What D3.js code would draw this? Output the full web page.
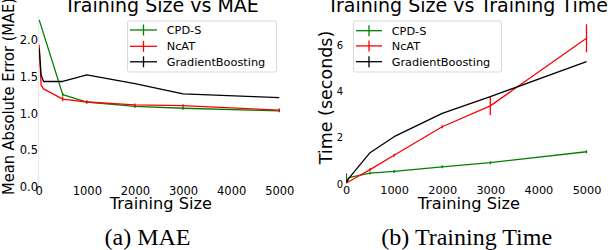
<!DOCTYPE html>
<html><head><meta charset="utf-8">
<script src="https://cdn.jsdelivr.net/npm/d3@7"></script>
<style>
body{margin:0;background:#fff;}
svg{display:block;}
text{font-family:"DejaVu Sans",sans-serif;fill:#000;}
.cap{font-family:"Liberation Serif","Times New Roman",serif;}
</style></head>
<body>
<svg id="c" width="612" height="250"></svg>
<script>
// ---- data ----
const sizes = [10, 50, 100, 500, 1000, 2000, 3000, 5000];
const seriesNames = ["CPD-S", "NcAT", "GradientBoosting"];
const seriesColors = ["#008000", "#ff0000", "#000000"];
// MAE panel
const maeCPD = [2.27, null, null, 1.25, 1.15, 1.09, 1.065, 1.03];
const maeCPDErr = [0, 0, 0, 0.005, 0.005, 0.005, 0.005, 0.005];
const maeNcAT = [1.93, 1.38, 1.33, 1.19, 1.15, 1.11, 1.10, 1.04];
const maeNcATErr = [0, 0, 0, 0.03, 0.01, 0.01, 0.01, 0.005];
const maeGB = [1.88, 1.52, 1.43, 1.43, 1.52, 1.40, 1.26, 1.21];
const maeGBErr = [0, 0, 0, 0, 0, 0, 0, 0];
// Time panel
const timeCPD = [0.05, 0.22, 0.28, 0.45, 0.52, 0.72, 0.9, 1.37];
const timeCPDErr = [0.38, 0, 0, 0.02, 0.02, 0.03, 0.02, 0.06];
const timeNcAT = [0.02, 0.08, 0.13, 0.6, 1.22, 2.45, 3.35, 6.27];
const timeNcATErr = [0, 0, 0, 0.03, 0.05, 0.06, 0.4, 0.6];
const timeGB = [0.05, 0.2, 0.33, 1.33, 2.02, 3.03, 3.75, 5.26];
const timeGBErr = [0, 0, 0, 0, 0, 0, 0, 0];
const xTicks = [0, 1000, 2000, 3000, 4000, 5000];
const maeYTicks = [0, 0.5, 1.0, 1.5, 2.0];
const timeYTicks = [0, 2, 4, 6];

const svg = d3.select("#c");

function panel(cfg) {
  const g = svg.append("g");
  const x = d3.scaleLinear().domain([0, 5000]).range(cfg.xr);
  const y = d3.scaleLinear().domain(cfg.yd).range(cfg.yr);
  const clipId = "clip" + cfg.id;
  svg.append("clipPath").attr("id", clipId).append("rect")
    .attr("x", cfg.xr[0]).attr("y", 14)
    .attr("width", cfg.xr[1] - cfg.xr[0] + 8).attr("height", cfg.yr[0] - 14);

  if (cfg.spine) {
    g.append("line").attr("x1", cfg.xr[0]).attr("x2", cfg.xr[0])
      .attr("y1", 16).attr("y2", cfg.yr[0]).attr("stroke", "#e6e6e6").attr("stroke-width", 1);
  }

  // axes (ticks without lines)
  const xAxis = d3.axisBottom(x).tickValues(xTicks).tickSize(0).tickPadding(0).tickFormat(d3.format("d"));
  const xg = g.append("g").attr("transform", `translate(0,${cfg.yr[0]})`).call(xAxis);
  xg.select(".domain").remove();
  xg.selectAll("text").attr("dy", null).attr("y", cfg.xTickBase - cfg.yr[0])
    .style("font-size", cfg.xTickSize + "px").style("font-family", "DejaVu Sans");

  const yAxis = d3.axisLeft(y).tickValues(cfg.yTicks).tickSize(0).tickPadding(0).tickFormat(cfg.yFmt);
  const yg = g.append("g").attr("transform", `translate(${cfg.yTickRight},0)`).call(yAxis);
  yg.select(".domain").remove();
  yg.selectAll("text").attr("x", 0).attr("dy", "0.36em")
    .style("font-size", cfg.yTickSize + "px").style("font-family", "DejaVu Sans");

  // lines
  const plot = g.append("g").attr("clip-path", `url(#${clipId})`);
  cfg.series.forEach((s, i) => {
    const pts = sizes.map((sz, k) => ({x: sz, y: s.v[k], e: s.e[k]})).filter(d => d.y !== null);
    plot.append("path").datum(pts)
      .attr("fill", "none").attr("stroke", seriesColors[i]).attr("stroke-width", 1.3)
      .attr("stroke-linejoin", "round")
      .attr("d", d3.line().x(d => x(d.x)).y(d => y(d.y)));
    plot.selectAll(null).data(pts.filter(d => d.e > 0)).enter().append("line")
      .attr("x1", d => x(d.x)).attr("x2", d => x(d.x))
      .attr("y1", d => Math.max(y(d.y - d.e), y(d.y) + 1.5))
      .attr("y2", d => Math.min(y(d.y + d.e), y(d.y) - 1.5))
      .attr("stroke", seriesColors[i]).attr("stroke-width", 1.3);
  });

  // legend
  const L = cfg.legend;
  g.append("rect").attr("x", L.x).attr("y", L.y).attr("width", L.w).attr("height", L.h)
    .attr("rx", 2).attr("fill", "#fff").attr("fill-opacity", 0.8).attr("stroke", "#d9d9d9").attr("stroke-width", 1);
  seriesNames.forEach((nm, i) => {
    const ry = L.rows[i];
    g.append("line").attr("x1", L.lx0).attr("x2", L.lx1).attr("y1", ry).attr("y2", ry)
      .attr("stroke", seriesColors[i]).attr("stroke-width", 1.3);
    const cx = (L.lx0 + L.lx1) / 2;
    g.append("line").attr("x1", cx).attr("x2", cx).attr("y1", ry - 5.5).attr("y2", ry + 5.5)
      .attr("stroke", seriesColors[i]).attr("stroke-width", 1.3);
    g.append("text").attr("x", L.tx).attr("y", ry).attr("dy", "0.36em")
      .style("font-size", "11.3px").text(nm);
  });

  // title, labels
  g.append("text").attr("x", cfg.titleX).attr("y", 12).attr("text-anchor", "middle")
    .style("font-size", "19px").text(cfg.title);
  g.append("text").attr("x", cfg.xLabX).attr("y", 209).attr("text-anchor", "middle")
    .style("font-size", "16.2px").text("Training Size");
  const yl = g.append("text").attr("transform", `translate(${cfg.yLab.x},${cfg.yLab.y}) rotate(-90)`)
    .attr("text-anchor", cfg.yLab.anchor).style("font-size", cfg.yLab.size + "px").text(cfg.yLab.text);
  if (cfg.yLab.len) yl.attr("textLength", cfg.yLab.len).attr("lengthAdjust", "spacingAndGlyphs");
  g.append("text").attr("class", "cap").attr("x", cfg.capX).attr("y", 245).attr("text-anchor", "middle")
    .style("font-size", "24px").text(cfg.cap);
}

panel({
  id: "a", xr: [38.7, 279.3], yd: [0, 1], yr: [186.3, 113.0],
  yTicks: maeYTicks, yFmt: d3.format(".1f"), yTickRight: 38, yTickSize: 11.5,
  xTickBase: 194.5, xTickSize: 11.5, spine: true,
  series: [{v: maeCPD, e: maeCPDErr}, {v: maeNcAT, e: maeNcATErr}, {v: maeGB, e: maeGBErr}],
  legend: {x: 127.5, y: 21, w: 149, h: 51, rows: [30, 46.3, 61.8], lx0: 130, lx1: 157, tx: 166.7},
  title: "Training Size vs MAE", titleX: 161.5, xLabX: 160.8,
  yLab: {x: 14, y: 195, anchor: "start", size: 16, len: 197, text: "Mean Absolute Error (MAE)"},
  cap: "(a) MAE", capX: 147.5
});

panel({
  id: "b", xr: [346, 586.5], yd: [0, 6], yr: [183.5, 44.5],
  yTicks: timeYTicks, yFmt: d3.format("d"), yTickRight: 343, yTickSize: 10,
  xTickBase: 193.5, xTickSize: 11.3, spine: false,
  series: [{v: timeCPD, e: timeCPDErr}, {v: timeNcAT, e: timeNcATErr}, {v: timeGB, e: timeGBErr}],
  legend: {x: 353.5, y: 21, w: 148, h: 51, rows: [30.7, 45.9, 61.7], lx0: 356, lx1: 382, tx: 391.7},
  title: "Training Size vs Training Time", titleX: 467.5, xLabX: 468.8,
  yLab: {x: 332, y: 97.5, anchor: "middle", size: 17.5, text: "Time (seconds)"},
  cap: "(b) Training Time", capX: 466.7
});
</script>
</body></html>
